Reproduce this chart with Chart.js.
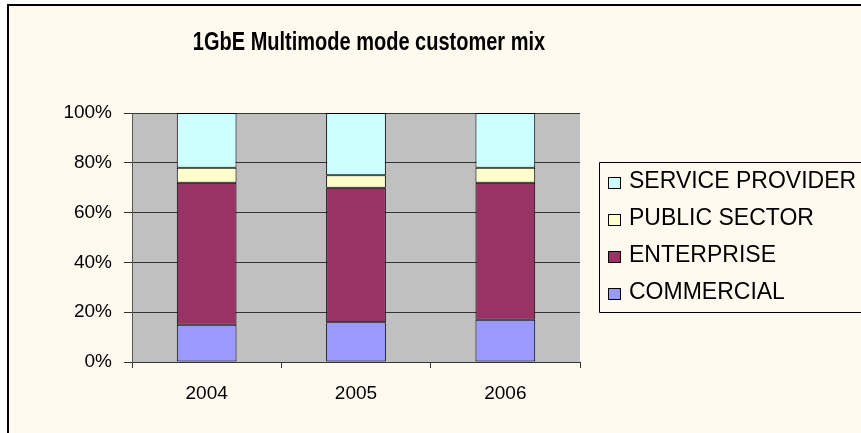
<!DOCTYPE html>
<html>
<head>
<meta charset="utf-8">
<script src="https://cdn.jsdelivr.net/npm/chart.js@4/dist/chart.umd.min.js"></script>
<style>
    html, body { margin: 0; padding: 0; background: #ffffff; }
    #chart { display: block; }
</style>
</head>
<body>
<canvas id="chart" width="861" height="433"></canvas>
<script>
    const years = ['2004', '2005', '2006'];
    const commercial = [15, 16, 17];
    const enterprise = [57, 54, 55];
    const publicSector = [6, 5, 6];
    const serviceProvider = [22, 25, 22];
    const yTicks = [0, 20, 40, 60, 80, 100];

    const titleText = '1GbE Multimode mode customer mix';
    const cream = '#FFFAF0';
    const fontFamily = '"Liberation Sans", Arial, sans-serif';

    // frame, cream background and the grey plot area, behind everything
    const frame = {
        id: 'frame',
        beforeDraw(chart) {
            const ctx = chart.ctx;
            const a = chart.chartArea;
            ctx.save();
            ctx.fillStyle = '#ffffff';
            ctx.fillRect(0, 0, chart.width, chart.height);
            ctx.fillStyle = cream;
            ctx.fillRect(8, 5, chart.width - 8, chart.height - 5);
            ctx.strokeStyle = '#000';
            ctx.lineWidth = 2;
            ctx.beginPath();
            ctx.moveTo(8, chart.height + 2);
            ctx.lineTo(8, 5);
            ctx.lineTo(chart.width + 2, 5);
            ctx.stroke();
            ctx.fillStyle = '#C0C0C0';
            ctx.fillRect(a.left, a.top, a.right - a.left, a.bottom - a.top);
            ctx.restore();
        }
    };

    // title (condensed a little, like the original) and boxed legend
    const extras = {
        id: 'extras',
        afterDraw(chart) {
            const ctx = chart.ctx;
            ctx.save();
            ctx.fillStyle = '#000';
            ctx.font = 'bold 25px ' + fontFamily;
            ctx.textBaseline = 'alphabetic';
            ctx.textAlign = 'center';
            ctx.translate(369, 50);
            ctx.scale(0.8, 1);
            ctx.fillText(titleText, 0, 0);
            ctx.restore();

            ctx.save();
            ctx.strokeStyle = '#000';
            ctx.lineWidth = 1;
            ctx.beginPath();
            ctx.moveTo(chart.width + 2, 162.5);
            ctx.lineTo(599.5, 162.5);
            ctx.lineTo(599.5, 312.5);
            ctx.lineTo(chart.width + 2, 312.5);
            ctx.stroke();

            ctx.font = '23px ' + fontFamily;
            ctx.textBaseline = 'middle';
            ctx.textAlign = 'left';
            const sets = chart.data.datasets.slice().reverse();
            sets.forEach((ds, i) => {
                const y = 182 + i * 37;
                ctx.fillStyle = ds.backgroundColor;
                ctx.fillRect(608.5, y - 4.5, 12, 11);
                ctx.strokeStyle = '#000';
                ctx.strokeRect(608.5, y - 4.5, 12, 11);
                ctx.fillStyle = '#000';
                ctx.fillText(ds.label, 629, y);
            });
            ctx.restore();
        }
    };

    const barStyle = {
        borderColor: '#000',
        borderWidth: 1,
        borderSkipped: false,
        barPercentage: 0.4,
        categoryPercentage: 1
    };

    new Chart(document.getElementById('chart'), {
        type: 'bar',
        data: {
            labels: years,
            datasets: [
                Object.assign({ label: 'COMMERCIAL', data: commercial, backgroundColor: '#9999FF' }, barStyle),
                Object.assign({ label: 'ENTERPRISE', data: enterprise, backgroundColor: '#993366' }, barStyle),
                Object.assign({ label: 'PUBLIC SECTOR', data: publicSector, backgroundColor: '#FFFFCC' }, barStyle),
                Object.assign({ label: 'SERVICE PROVIDER', data: serviceProvider, backgroundColor: '#CCFFFF' }, barStyle)
            ]
        },
        options: {
            responsive: false,
            animation: false,
            layout: {
                padding: { left: 52, top: 113, right: 281, bottom: 21 }
            },
            plugins: {
                legend: { display: false },
                title: { display: false },
                tooltip: { enabled: false }
            },
            scales: {
                x: {
                    stacked: true,
                    afterFit(scale) { scale.height = 50; },
                    grid: {
                        offset: true,
                        drawOnChartArea: false,
                        color: '#333',
                        tickLength: 6
                    },
                    border: { color: '#333', width: 1 },
                    ticks: {
                        color: '#000',
                        padding: 14,
                        font: { family: fontFamily, size: 19 }
                    }
                },
                y: {
                    stacked: true,
                    min: 0,
                    max: 100,
                    afterFit(scale) { scale.width = 80; },
                    afterBuildTicks(scale) {
                        scale.ticks = yTicks.map(v => ({ value: v }));
                    },
                    grid: {
                        color: '#333',
                        tickLength: 8
                    },
                    border: { color: '#555', width: 1 },
                    ticks: {
                        color: '#000',
                        padding: 12,
                        font: { family: fontFamily, size: 19 },
                        callback: v => v + '%'
                    }
                }
            }
        },
        plugins: [frame, extras]
    });
</script>
</body>
</html>
